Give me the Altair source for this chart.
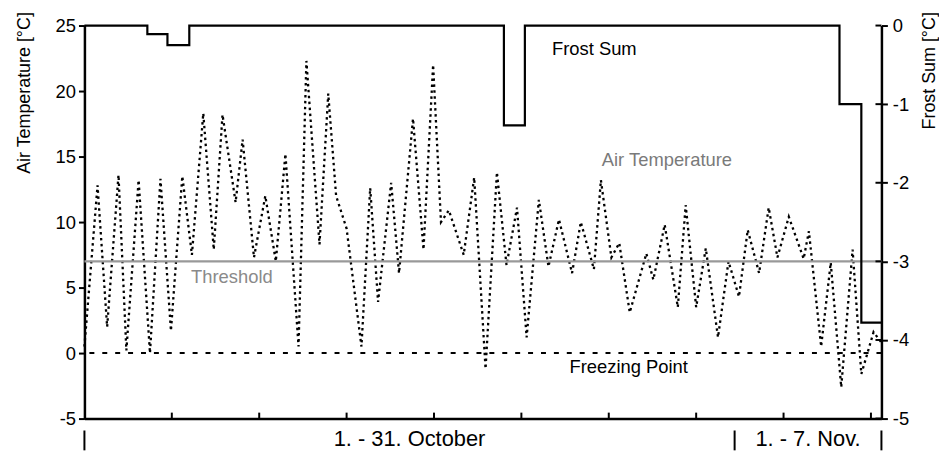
import altair as alt
import pandas as pd

# ---- data ----
hours = [0, 15, 26, 39, 48, 62, 75, 87, 99, 112, 123, 136, 148, 158, 173, 181, 194, 207, 219, 230,
         245, 254, 269, 279, 288, 300, 317, 327, 336, 351, 360, 376, 388, 399, 408, 417, 434, 446,
         459, 472, 483, 495, 506, 520, 531, 543, 558, 568, 583, 591, 603, 612, 624, 643, 651, 664,
         679, 688, 700, 711, 725, 737, 749, 759, 772, 783, 793, 806, 823, 829, 843, 854, 866, 879,
         889, 903, 912]
temps = [0.5, 12.8, 2.0, 13.6, 0.2, 13.2, 0.0, 13.3, 1.7, 13.5, 7.5, 18.3, 7.9, 18.2, 11.5, 16.3, 7.3,
         12.0, 7.0, 15.2, 0.5, 22.3, 8.3, 19.8, 12.0, 9.5, 0.5, 12.6, 3.9, 13.0, 6.1, 17.9, 7.9, 22.0,
         10.0, 10.9, 7.5, 13.4, -1.2, 13.8, 6.7, 11.1, 1.2, 11.7, 6.6, 10.2, 6.1, 10.0, 6.4, 13.2, 7.3,
         8.4, 3.1, 7.6, 5.6, 9.8, 3.5, 11.3, 3.5, 8.0, 1.2, 7.0, 4.3, 9.4, 6.1, 11.1, 7.3, 10.4, 7.2,
         9.3, 0.5, 6.9, -2.6, 7.9, -1.6, 1.6, 0.8]

frost_hours = [0, 72, 95, 120, 480, 504, 864, 889, 912]
frost_vals = [0, -0.11, -0.25, 0, -1.27, 0, -1.0, -3.78, -3.78]

threshold = [7]
freezing = [0]

x_ticks = [100, 200, 300, 400, 500, 600, 700, 800, 900]
temp_ticks = [-5, 0, 5, 10, 15, 20, 25]
frost_ticks = [0, -1, -2, -3, -4, -5]

period_labels = ["1. - 31. October", "1. - 7. Nov."]
period_centers = [372, 828]
period_bounds = [0, 744, 912]

ann_labels = ["Frost Sum", "Air Temperature", "Threshold", "Freezing Point"]
ann_hours = [535, 592, 122, 555]
ann_temps = [23.2, 14.7, 5.8, -1.1]
ann_colors = ["#000000", "#7a7a7a", "#8a8a8a", "#000000"]

# ---- chart ----
W, H = 803, 396
FONT = "Liberation Sans"
FS = 18.5

xs = alt.Scale(domain=[0, 912], nice=False, zero=False)
ys = alt.Scale(domain=[-5, 25], nice=False, zero=False)
fs = alt.Scale(domain=[-5, 0], nice=False, zero=False)

xaxis = alt.Axis(labels=False, ticks=False, grid=False, title=None,
                 domainColor="black", domainWidth=2.5)
yaxis = alt.Axis(values=temp_ticks, grid=False, title="Air Temperature [°C]",
                 labelExpr="'' + datum.value",
                 domainColor="black", domainWidth=2.5, tickColor="black", tickWidth=2,
                 tickSize=6, labelPadding=3, labelFontSize=FS, labelColor="black",
                 titleFontSize=18, titleFontWeight="normal", titleColor="black",
                 titlePadding=22, titleAnchor="end", titleY=-14, labelFont=FONT, titleFont=FONT)
faxis = alt.Axis(orient="right", values=frost_ticks, grid=False, title="Frost Sum [°C]",
                 labelExpr="'' + datum.value",
                 domainColor="black", domainWidth=2.5, tickColor="black", tickWidth=2,
                 tickSize=6, labelPadding=5, labelFontSize=FS, labelColor="black",
                 titleFontSize=18, titleFontWeight="normal", titleColor="black",
                 titlePadding=30, titleAngle=270, titleAnchor="end", titleY=-14,
                 labelFont=FONT, titleFont=FONT)

temp_df = pd.DataFrame({"h": hours, "t": temps})
frost_df = pd.DataFrame({"h": frost_hours, "f": frost_vals})
ann_df = pd.DataFrame({"label": ann_labels, "h": ann_hours, "t": ann_temps, "c": ann_colors})
xt_df = pd.DataFrame({"h": x_ticks})
ft_df = pd.DataFrame({"f": frost_ticks})
per_df = pd.DataFrame({"label": period_labels, "h": period_centers})
bnd_df = pd.DataFrame({"h": period_bounds})

temp_line = alt.Chart(temp_df).mark_line(
    color="black", strokeWidth=2.3, strokeDash=[2.5, 3.5]
).encode(x=alt.X("h:Q", scale=xs, axis=xaxis), y=alt.Y("t:Q", scale=ys, axis=yaxis))

thr = alt.Chart(pd.DataFrame({"t": threshold})).mark_rule(
    color="#999999", strokeWidth=2.5
).encode(y=alt.Y("t:Q", scale=ys, axis=yaxis))

frz = alt.Chart(pd.DataFrame({"t": freezing})).mark_rule(
    color="black", strokeWidth=2, strokeDash=[5, 8]
).encode(y=alt.Y("t:Q", scale=ys, axis=yaxis))

ann = alt.Chart(ann_df).mark_text(
    font=FONT, fontSize=FS, align="left", baseline="middle"
).encode(x=alt.X("h:Q", scale=xs, axis=xaxis), y=alt.Y("t:Q", scale=ys, axis=yaxis),
         text="label:N", color=alt.Color("c:N", scale=None))

xticks_in = alt.Chart(xt_df).mark_rule(color="black", strokeWidth=2).encode(
    x=alt.X("h:Q", scale=xs, axis=xaxis), y=alt.value(H), y2=alt.value(H - 6))

per_text = alt.Chart(per_df).mark_text(
    font=FONT, fontSize=22, align="center", baseline="middle", color="black"
).encode(x=alt.X("h:Q", scale=xs, axis=xaxis), y=alt.value(H + 21), text="label:N")

per_bars = alt.Chart(bnd_df).mark_rule(color="black", strokeWidth=2).encode(
    x=alt.X("h:Q", scale=xs, axis=xaxis), y=alt.value(H + 12), y2=alt.value(H + 32))

temp_group = alt.layer(temp_line, thr, frz, ann, xticks_in, per_text, per_bars)

frost_line = alt.Chart(frost_df).mark_line(
    color="black", strokeWidth=2.2, interpolate="step-after"
).encode(x=alt.X("h:Q", scale=xs, axis=xaxis), y=alt.Y("f:Q", scale=fs, axis=faxis))

fticks_in = alt.Chart(ft_df).mark_rule(color="black", strokeWidth=2).encode(
    y=alt.Y("f:Q", scale=fs, axis=faxis), x=alt.value(W - 6), x2=alt.value(W))

frost_group = alt.layer(frost_line, fticks_in)

chart = alt.layer(temp_group, frost_group).resolve_scale(y="independent").properties(
    width=W, height=H, padding={"left": 7, "top": 1, "right": 0, "bottom": 0}
).configure(font=FONT).configure_view(stroke=None)

chart.save("out.html", embed_options={"renderer": "svg", "actions": False})
